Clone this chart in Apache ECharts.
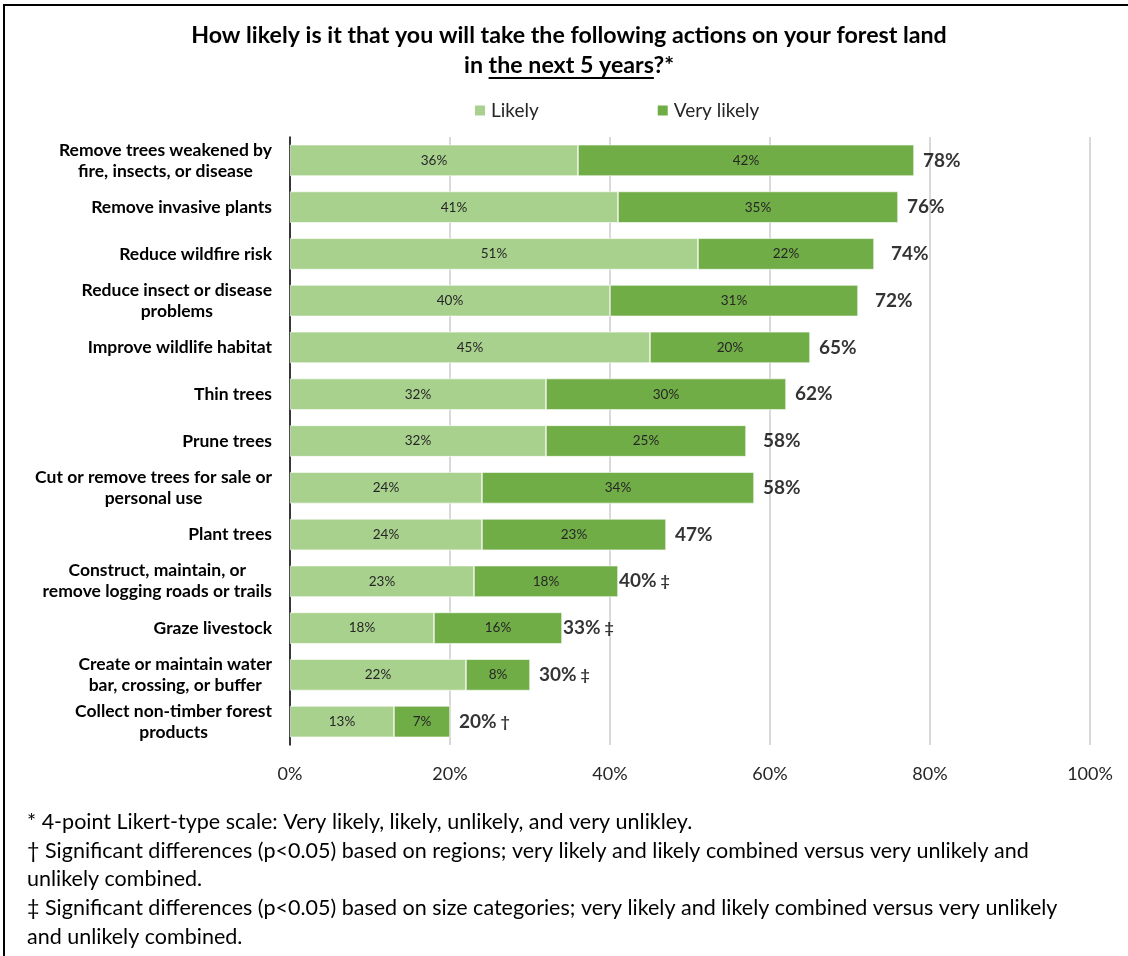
<!DOCTYPE html>
<html>
<head>
<meta charset="utf-8">
<script src="https://cdn.jsdelivr.net/npm/echarts@6/dist/echarts.min.js"></script>
<style>
  html, body { margin: 0; padding: 0; background: #fff; }
  #chart { width: 1128px; height: 956px; }
</style>
</head>
<body>
<div id="chart"></div>
<script>
// Actions, top to bottom
const categories = [
  'Remove trees weakened by\nfire, insects, or disease',
  'Remove invasive plants',
  'Reduce wildfire risk',
  'Reduce insect or disease\nproblems',
  'Improve wildlife habitat',
  'Thin trees',
  'Prune trees',
  'Cut or remove trees for sale or\npersonal use',
  'Plant trees',
  'Construct, maintain, or\nremove logging roads or trails',
  'Graze livestock',
  'Create or maintain water\nbar, crossing, or buffer',
  'Collect non-timber forest\nproducts'
];
const likely     = [36, 41, 51, 40, 45, 32, 32, 24, 24, 23, 18, 22, 13];
const veryLikely = [42, 35, 22, 31, 20, 30, 25, 34, 23, 18, 16,  8,  7];
const totals     = [78, 76, 74, 72, 65, 62, 58, 58, 47, 40, 33, 30, 20];
const sigMarks   = ['', '', '', '', '', '', '', '', '', '‡', '‡', '‡', '†'];
const xTicks     = [0, 20, 40, 60, 80, 100];

const titleLines = ['How likely is it that you will take the following actions on your forest land',
                    'in ', 'the next 5 years', '?*'];
const footnotes = [
  '* 4-point Likert-type scale: Very likely, likely, unlikely, and very unlikley.',
  '† Significant differences (p<0.05) based on regions; very likely and likely combined versus very unlikely and',
  'unlikely combined.',
  '‡ Significant differences (p<0.05) based on size categories; very likely and likely combined versus very unlikely',
  'and unlikely combined.'
];

const FONT = 'Lato, "Open Sans", sans-serif';
const TITLE_SIZE = 23.2;
const TITLE_X = 569;

// width of a text run, used to place the underline under part of the title
function textWidth(str, font) {
  const ctx = document.createElement('canvas').getContext('2d');
  ctx.font = font;
  return ctx.measureText(str).width;
}
const titleFont = 'bold ' + TITLE_SIZE + 'px ' + FONT;
const line2 = titleLines[1] + titleLines[2] + titleLines[3];
const line2Start = TITLE_X - textWidth(line2, titleFont) / 2;
const ulStart = line2Start + textWidth(titleLines[1], titleFont);
const ulEnd = ulStart + textWidth(titleLines[2], titleFont);

const chart = echarts.init(document.getElementById('chart'), null, { renderer: 'canvas' });

chart.setOption({
  backgroundColor: '#ffffff',
  animation: false,
  textStyle: { fontFamily: FONT },
  legend: {
    data: ['Likely', 'Very likely'],
    top: 96,
    left: 468,
    itemWidth: 12,
    itemHeight: 12,
    itemGap: 117,
    icon: 'rect',
    textStyle: { fontSize: 19, color: '#262626', fontFamily: FONT }
  },
  grid: { left: 290, right: 38, top: 137, bottom: 211, containLabel: false },
  xAxis: {
    type: 'value',
    min: 0,
    max: 100,
    interval: 20,
    axisLine: { show: false },
    axisTick: { show: false },
    splitLine: { lineStyle: { color: '#d9d9d9', width: 2 } },
    axisLabel: {
      margin: 20,
      fontSize: 18,
      color: '#262626',
      fontFamily: FONT,
      formatter: v => xTicks.includes(v) ? v + '%' : ''
    }
  },
  yAxis: {
    type: 'category',
    inverse: true,
    data: categories,
    axisLine: { lineStyle: { color: '#000', width: 1.5 } },
    axisTick: { length: 5, lineStyle: { color: '#000', width: 1.5 } },
    axisLabel: {
      margin: 18,
      align: 'right',
      formatter: v => v.split('\n').map(s => '{c|' + s + '}').join('\n'),
      rich: {
        c: { align: 'center', fontSize: 17.5, fontWeight: 'bold', color: '#000', fontFamily: FONT, lineHeight: 21 }
      }
    }
  },
  series: [
    {
      name: 'Likely',
      type: 'bar',
      stack: 'total',
      barWidth: '67%',
      itemStyle: { color: '#a9d18e', borderColor: '#ffffff', borderWidth: 0.6 },
      label: { show: true, position: 'inside', fontSize: 13.5, color: '#262626', fontFamily: FONT, formatter: p => p.value + '%' },
      data: likely
    },
    {
      name: 'Very likely',
      type: 'bar',
      stack: 'total',
      itemStyle: { color: '#70ad47', borderColor: '#ffffff', borderWidth: 0.6 },
      label: { show: true, position: 'inside', fontSize: 13.5, color: '#262626', fontFamily: FONT, formatter: p => p.value + '%' },
      data: veryLikely
    },
    {
      name: 'Total',
      type: 'scatter',
      symbolSize: 0,
      silent: true,
      label: {
        show: true,
        position: 'right',
        distance: 9,
        formatter: p => '{v|' + totals[p.dataIndex] + '%}' + (sigMarks[p.dataIndex] ? '{m| ' + sigMarks[p.dataIndex] + '}' : ''),
        rich: {
          v: { fontSize: 19, fontWeight: 'bold', color: '#000', fontFamily: FONT },
          m: { fontSize: 16, fontWeight: 'bold', color: '#000', fontFamily: FONT }
        }
      },
      data: totals.map((v, i) => [v, categories[i]])
    }
  ],
  graphic: [
    {
      type: 'rect',
      silent: true,
      shape: { x: 4, y: 5, width: 1140, height: 970 },
      style: { fill: 'none', stroke: '#000', lineWidth: 2 }
    },
    {
      type: 'text',
      x: TITLE_X,
      y: 36,
      style: { text: titleLines[0], font: titleFont, fill: '#000', align: 'center', verticalAlign: 'middle' }
    },
    {
      type: 'text',
      x: TITLE_X,
      y: 66,
      style: { text: line2, font: titleFont, fill: '#000', align: 'center', verticalAlign: 'middle' }
    },
    {
      type: 'line',
      shape: { x1: ulStart, y1: 78, x2: ulEnd, y2: 78 },
      style: { stroke: '#000', lineWidth: 1.8 }
    },
    {
      type: 'text',
      left: 27,
      top: 808,
      style: { text: footnotes.join('\n'), font: '21.5px ' + FONT, fill: '#000', lineHeight: 28.6 }
    }
  ]
});
</script>
</body>
</html>
